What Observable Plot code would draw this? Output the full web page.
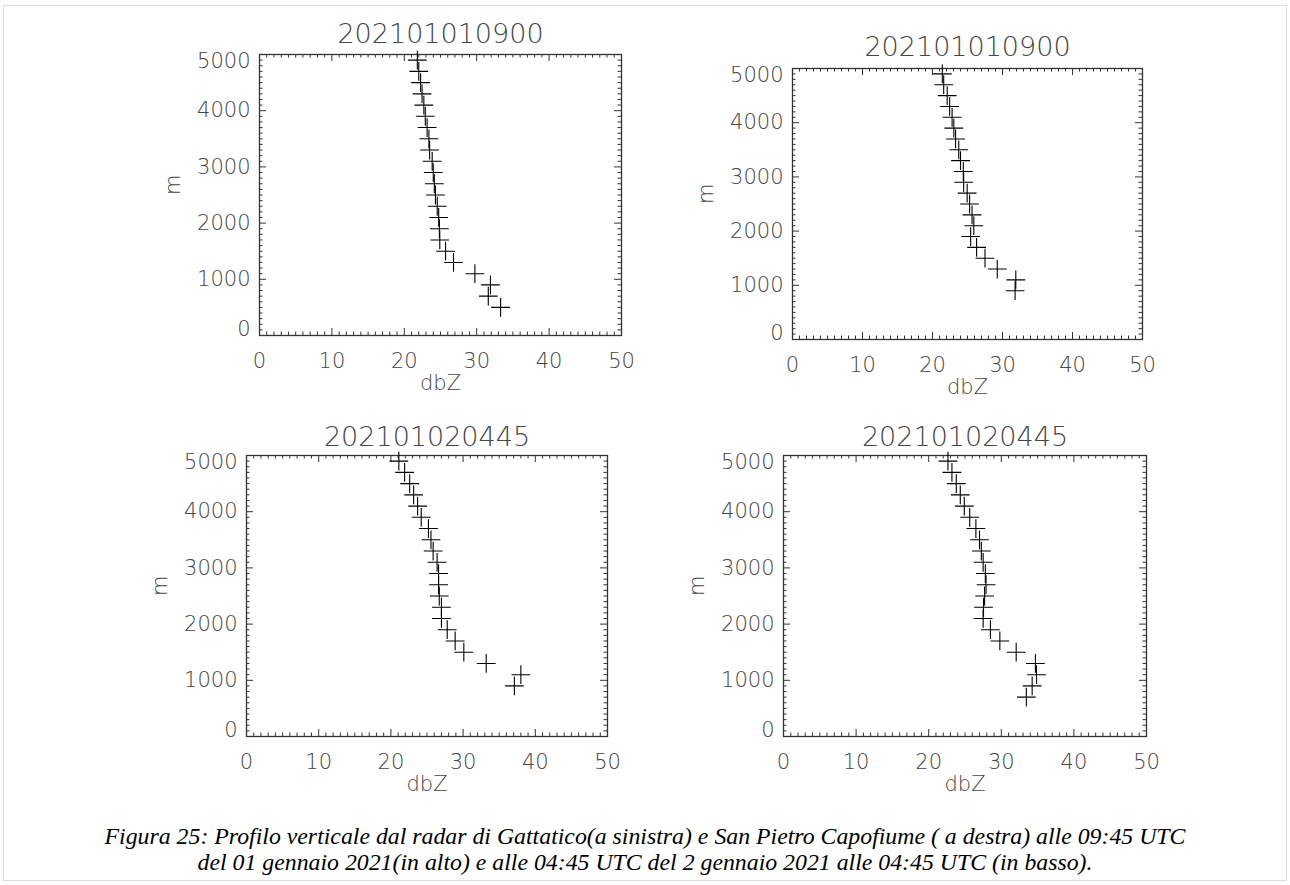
<!DOCTYPE html>
<html>
<head>
<meta charset="utf-8">
<script src="https://cdn.jsdelivr.net/npm/d3@7"></script>
<script src="https://cdn.jsdelivr.net/npm/@observablehq/plot@0.6"></script>
<style>
  body { margin: 0; background: #fff; }
  #fig { position: relative; width: 1290px; height: 885px; overflow: hidden; background: #fff; }
  #border { position: absolute; left: 3px; top: 5px; width: 1284px; height: 876px; border: 1px solid #dcdcdc; box-sizing: border-box; }
  #caption { position: absolute; left: 0; top: 823px; width: 1290px; text-align: center;
    font-family: "Liberation Serif", "DejaVu Serif", serif; font-style: italic; font-size: 23.8px; line-height: 26px; color: #000; }
</style>
</head>
<body>
<div id="fig">
  <div id="border"></div>
  <div id="caption">Figura 25: Profilo verticale dal radar di Gattatico(a sinistra) e San Pietro Capofiume ( a destra) alle 09:45 UTC<br>del 01 gennaio 2021(in alto) e alle 04:45 UTC del 2 gennaio 2021 alle 04:45 UTC (in basso).</div>
</div>
<script>
// ---- data ----
const titles = ["202101010900", "202101010900", "202101020445", "202101020445"];
const xTickLabels = [0, 10, 20, 30, 40, 50];
const yTickLabels = [0, 1000, 2000, 3000, 4000, 5000];

// top-left: Gattatico 2021-01-01
const heights1 = [500, 700, 900, 1100, 1300, 1500, 1700, 1900, 2100, 2300, 2500, 2700, 2900, 3100, 3300, 3500, 3700, 3900, 4100, 4300, 4500, 4700, 4900];
const dbz1 = [33.3, 31.6, 31.9, 29.75, 26.8, 25.7, 24.9, 24.85, 24.75, 24.55, 24.3, 24.15, 24.0, 23.85, 23.5, 23.4, 23.15, 22.9, 22.7, 22.45, 22.25, 22.0, 21.8];

// top-right: San Pietro Capofiume 2021-01-01
const heights2 = [900, 1100, 1300, 1500, 1700, 1900, 2100, 2300, 2500, 2700, 2900, 3100, 3300, 3500, 3700, 3900, 4100, 4300, 4500, 4700, 4900];
const dbz2 = [31.8, 31.9, 29.25, 27.5, 26.3, 25.45, 25.9, 25.65, 25.3, 24.95, 24.45, 24.4, 24.0, 23.75, 23.3, 23.05, 22.8, 22.45, 22.1, 21.6, 21.4];

// bottom-left: Gattatico 2021-01-02
const heights3 = [900, 1100, 1300, 1500, 1700, 1900, 2100, 2300, 2500, 2700, 2900, 3100, 3300, 3500, 3700, 3900, 4100, 4300, 4500, 4700, 4900];
const dbz3 = [37.1, 38.0, 33.2, 30.1, 28.9, 27.8, 27.0, 27.0, 26.7, 26.6, 26.6, 26.4, 25.85, 25.55, 25.2, 24.2, 23.7, 23.15, 22.6, 21.9, 21.1];

// bottom-right: San Pietro Capofiume 2021-01-02
const heights4 = [700, 900, 1100, 1300, 1500, 1700, 1900, 2100, 2300, 2500, 2700, 2900, 3100, 3300, 3500, 3700, 3900, 4100, 4300, 4500, 4700, 4900];
const dbz4 = [33.45, 34.25, 34.85, 34.7, 32.05, 29.8, 28.5, 27.5, 27.55, 27.7, 27.9, 27.8, 27.5, 27.25, 27.0, 26.5, 25.65, 24.9, 24.35, 23.8, 23.2, 22.65];

const panels = [
  {title: titles[0], h: heights1, v: dbz1, frame: [259, 54, 621, 335], titleDy: -20},
  {title: titles[1], h: heights2, v: dbz2, frame: [792, 68, 1142, 339], titleDy: -21},
  {title: titles[2], h: heights3, v: dbz3, frame: [246, 455, 607, 736], titleDy: -18},
  {title: titles[3], h: heights4, v: dbz4, frame: [783, 455, 1146, 736], titleDy: -18},
];

const FONT = "'DejaVu Sans', sans-serif";
const GREY = "#454545";
const AX = "#333";

const xMinor = d3.range(0, 51, 1).filter(d => d % 10 !== 0);
const yMinor = d3.range(0, 5001, 100).filter(d => d % 1000 !== 0);

const fig = document.getElementById("fig");
const txt = {fill: GREY, fontSize: 21, fontWeight: 200, lineAnchor: "middle"};

for (const p of panels) {
  const [fl, ft, fr, fb] = p.frame;
  const w = fr - fl, h = fb - ft;
  const ml = 100, mt = 50, mr = 20, mb = 70;
  const data = p.h.map((hh, i) => ({height: hh, dbz: p.v[i]}));
  const MAJ = 7, MIN = 3.5;
  const chart = Plot.plot({
    width: w + ml + mr,
    height: h + mt + mb,
    marginLeft: ml, marginTop: mt, marginRight: mr, marginBottom: mb,
    x: {domain: [0, 50], axis: null},
    y: {domain: [0, 5000], axis: null},
    style: {fontFamily: FONT, fontSize: "21px", color: GREY, background: "transparent", overflow: "visible"},
    marks: [
      // ticks, inward on all four sides
      Plot.tickX(xTickLabels, {x: d => d, insetTop: h - MAJ, stroke: AX}),
      Plot.tickX(xTickLabels, {x: d => d, insetBottom: h - MAJ, stroke: AX}),
      Plot.tickX(xMinor, {x: d => d, insetTop: h - MIN, stroke: AX}),
      Plot.tickX(xMinor, {x: d => d, insetBottom: h - MIN, stroke: AX}),
      Plot.tickY(yTickLabels, {y: d => d, insetRight: w - MAJ, stroke: AX}),
      Plot.tickY(yTickLabels, {y: d => d, insetLeft: w - MAJ, stroke: AX}),
      Plot.tickY(yMinor, {y: d => d, insetRight: w - MIN, stroke: AX}),
      Plot.tickY(yMinor, {y: d => d, insetLeft: w - MIN, stroke: AX}),
      Plot.frame({stroke: AX, strokeWidth: 1.3}),
      // tick labels
      Plot.text(xTickLabels, {x: d => d, text: d => String(d), frameAnchor: "bottom", dy: 26, ...txt}),
      Plot.text(yTickLabels.filter(d => d > 0 && d < 5000), {y: d => d, text: d => String(d), frameAnchor: "left", dx: -9, textAnchor: "end", ...txt}),
      Plot.text(yTickLabels.filter(d => d === 0), {y: d => d, text: d => String(d), frameAnchor: "left", dx: -9, dy: -6, textAnchor: "end", ...txt}),
      Plot.text(yTickLabels.filter(d => d === 5000), {y: d => d, text: d => String(d), frameAnchor: "left", dx: -9, dy: 7, textAnchor: "end", ...txt}),
      // axis labels and title
      Plot.text(["dbZ"], {frameAnchor: "bottom", dy: 48, ...txt}),
      Plot.text(["m"], {frameAnchor: "left", dx: -86, rotate: -90, ...txt}),
      Plot.text([p.title], {frameAnchor: "top", dy: p.titleDy, ...txt, fontSize: 27}),
      // data
      Plot.dot(data, {x: "dbz", y: "height", symbol: "plus", r: 6.1, stroke: "#000", strokeWidth: 1.1})
    ]
  });
  chart.style.position = "absolute";
  chart.style.left = (fl - ml) + "px";
  chart.style.top = (ft - mt) + "px";
  fig.appendChild(chart);
}
</script>
</body>
</html>
